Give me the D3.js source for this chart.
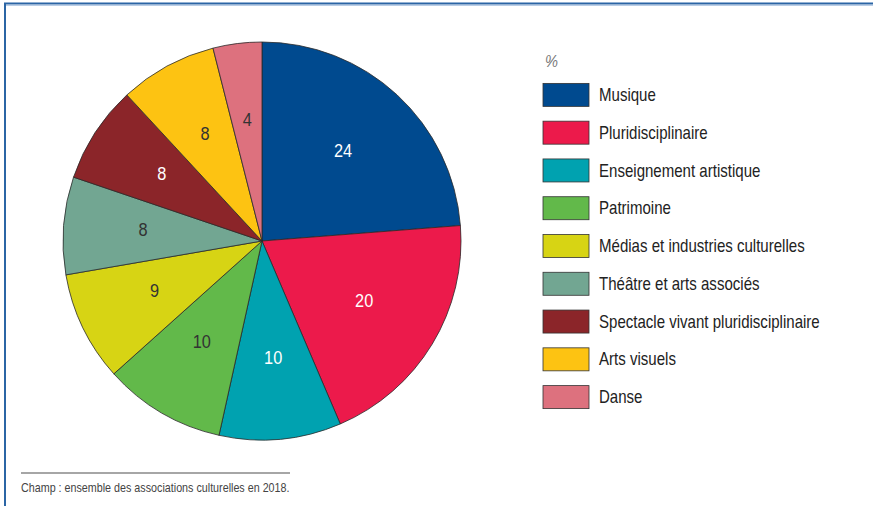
<!DOCTYPE html>
<html>
<head>
<meta charset="utf-8">
<script src="https://cdn.jsdelivr.net/npm/d3@7"></script>
<style>
  body { margin: 0; background: #fff; }
  svg text { font-family: "Liberation Sans Narrow", "Arial Narrow", "Liberation Sans", sans-serif; }
</style>
</head>
<body>
<div id="chart"></div>
<script>
var categories = ["Musique", "Pluridisciplinaire", "Enseignement artistique", "Patrimoine",
  "Médias et industries culturelles", "Théâtre et arts associés",
  "Spectacle vivant pluridisciplinaire", "Arts visuels", "Danse"];
var values = [24, 20, 10, 10, 9, 8, 8, 8, 4];
var colors = ["#004a8f", "#ec1a4b", "#00a2b0", "#62b94a", "#d7d414", "#72a692", "#8b2529", "#fdc312", "#dd717e"];
var labelColors = ["#fff", "#fff", "#fff", "#333", "#333", "#333", "#fff", "#333", "#333"];
var unitLabel = "%";
var note = "Champ : ensemble des associations culturelles en 2018.";

var width = 874, height = 506;
var squeeze = 0.86; // condensed look, no narrow font installed

var svg = d3.select("#chart").append("svg")
  .attr("width", width)
  .attr("height", height);

// frame (top + left only)
svg.append("path")
  .attr("d", "M5,506 V3.5 H873")
  .attr("fill", "none")
  .attr("stroke", "#2b65a5")
  .attr("stroke-width", 2);
svg.append("line")
  .attr("x1", 6).attr("x2", 873).attr("y1", 5.5).attr("y2", 5.5)
  .attr("stroke", "#b9cde6").attr("stroke-width", 1);

var data = categories.map(function(c, i) { return { name: c, value: values[i], i: i }; });

var radius = 199;
var pie = d3.pie().sort(null).value(function(d) { return d.value; });
var arc = d3.arc().innerRadius(0).outerRadius(radius);
var labelArc = d3.arc().innerRadius(radius * 0.6).outerRadius(radius * 0.6);

var g = svg.append("g").attr("transform", "translate(262,241)");

g.selectAll("path.slice")
  .data(pie(data))
  .enter()
  .append("path")
  .attr("class", "slice")
  .attr("d", arc)
  .attr("fill", function(d) { return colors[d.data.i]; })
  .attr("stroke", "#2a2a2a")
  .attr("stroke-width", 0.8);

g.selectAll("text.lbl")
  .data(pie(data))
  .enter()
  .append("text")
  .attr("class", "lbl")
  .attr("transform", function(d) {
    var c = labelArc.centroid(d);
    return "translate(" + c[0] + "," + (c[1] - 3) + ") scale(" + squeeze + ",1)";
  })
  .attr("text-anchor", "middle")
  .attr("dy", "0.36em")
  .attr("font-size", 19)
  .attr("fill", function(d) { return labelColors[d.data.i]; })
  .text(function(d) { return d.data.value; });

// legend
var legend = svg.append("g").attr("transform", "translate(543,0)");
legend.append("text")
  .attr("transform", "translate(2,67) scale(" + squeeze + ",1)")
  .attr("font-size", 17)
  .attr("font-style", "italic")
  .attr("fill", "#777")
  .text(unitLabel);

var y = d3.scaleBand().domain(categories).range([76, 416]);
var items = legend.selectAll("g.item")
  .data(data)
  .enter()
  .append("g")
  .attr("class", "item")
  .attr("transform", function(d) { return "translate(0," + (y(d.name) + y.bandwidth() / 2) + ")"; });

items.append("rect")
  .attr("x", 0).attr("y", -11.5)
  .attr("width", 46).attr("height", 23)
  .attr("fill", function(d) { return colors[d.i]; })
  .attr("stroke", "#333")
  .attr("stroke-width", 0.8);

items.append("text")
  .attr("transform", "translate(56,0) scale(" + squeeze + ",1)")
  .attr("dy", "0.35em")
  .attr("font-size", 17.5)
  .attr("fill", "#222")
  .text(function(d) { return d.name; });

// footnote
svg.append("line")
  .attr("x1", 21).attr("x2", 290).attr("y1", 473).attr("y2", 473)
  .attr("stroke", "#888").attr("stroke-width", 1.5);
svg.append("text")
  .attr("transform", "translate(21,492) scale(0.86,1)")
  .attr("font-size", 12.5)
  .attr("fill", "#444")
  .text(note);
</script>
</body>
</html>
